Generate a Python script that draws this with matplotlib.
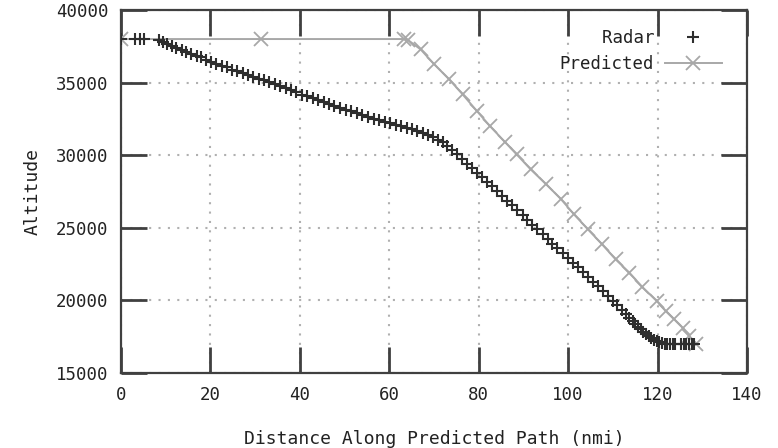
import matplotlib
matplotlib.use("Agg")
import matplotlib.pyplot as plt

# ---- data ----
radar_x = [0.0, 3.1, 4.3, 5.2,
           8.5, 9.4, 10.3, 11.5, 12.4, 13.6, 14.5, 15.7, 16.9, 17.8, 19.0, 20.1,
           21.2, 22.5, 23.6, 24.8, 26.0, 27.3, 28.4, 29.6, 30.9, 32.0, 33.1, 34.5,
           35.6, 36.8, 38.0, 39.2, 40.4, 41.5, 42.9, 44.0, 45.3, 46.6, 47.7, 49.0,
           50.3, 51.4, 52.8, 54.0, 55.2, 56.5, 57.7, 59.0, 60.2, 61.4, 62.6, 63.9,
           65.0, 66.2, 67.5, 68.6, 69.8, 71.0, 72.0,
           73.0, 74.1, 75.2, 76.3, 77.4, 78.5, 79.6, 80.8, 81.9, 83.0, 84.1, 85.3,
           86.4, 87.5, 88.6, 89.8, 90.9, 92.0, 93.1, 94.3, 95.4, 96.5, 97.6, 98.8,
           99.9, 101.0, 102.2, 103.3, 104.4, 105.6, 106.7, 107.8, 108.9, 110.0,
           111.0, 112.0, 112.9, 113.7, 114.4, 115.0, 115.6, 116.2, 116.8, 117.4,
           118.0, 118.6, 119.2, 119.8, 120.4, 121.0, 121.6, 122.2, 122.8, 123.4,
           124.0, 125.2, 125.8, 126.4, 127.0, 127.6, 128.2]
radar_alt = [38000, 38000, 38000, 38000,
             37900, 37780, 37650, 37500, 37370, 37230, 37110, 36980, 36850, 36740, 36560, 36400,
             36300, 36160, 36040, 35900, 35790, 35650, 35520, 35410, 35280, 35170, 35040, 34880,
             34760, 34620, 34480, 34330, 34170, 34060, 33930, 33800, 33680, 33520, 33410, 33280,
             33140, 33030, 32890, 32770, 32640, 32520, 32410, 32300, 32220, 32100, 32000, 31870,
             31770, 31640, 31520, 31380, 31250, 31080, 30900,
             30650, 30350, 30050, 29750, 29420, 29100, 28800, 28470, 28150, 27850, 27530, 27200,
             26880, 26550, 26220, 25890, 25560, 25220, 24900, 24560, 24230, 23900, 23580, 23250,
             22920, 22600, 22280, 21950, 21630, 21300, 20980, 20650, 20320, 19990,
             19660, 19350, 19060, 18800, 18580, 18370, 18190, 18010, 17850, 17690,
             17550, 17420, 17300, 17200, 17120, 17060, 17030, 17010, 17000, 17000,
             17000, 17000, 17010, 17000, 17000, 17000, 17000]

pred_x = [0.0, 31.4, 63.3, 64.1, 67.0, 70.0, 73.4, 76.4, 79.6, 82.5, 85.8, 88.5,
          91.6, 95.0, 98.3, 101.3, 104.4, 107.6, 110.6, 113.7, 116.6, 119.8,
          121.8, 123.7, 125.6, 127.1, 128.6]
pred_alt = [38000, 38000, 38000, 37950, 37290, 36280, 35220, 34190, 33040, 32010,
            30930, 30050, 29030, 28020, 27010, 25930, 24900, 23860, 22830, 21910,
            20920, 19960, 19270, 18700, 18120, 17550, 17020]

x_ticks = [0, 20, 40, 60, 80, 100, 120, 140]
y_ticks = [15000, 20000, 25000, 30000, 35000, 40000]

# ---- style ----
FONT = "DejaVu Sans Mono"
plt.rcParams["font.family"] = [FONT]
AX_COL = "#404040"
TXT_COL = "#222222"

fig = plt.figure(figsize=(7.78, 4.48), dpi=100)
ax = fig.add_axes([121 / 778, 1 - 373 / 448, (747 - 121) / 778, (373 - 10) / 448])

ax.plot(pred_x, pred_alt, color="#a8a8a8", lw=1.4, marker="x", ms=9.5, mew=1.3,
        label="Predicted", zorder=3)
ax.plot(radar_x, radar_alt, ls="none", color="#2e2e2e", marker="+", ms=8, mew=1.5,
        label="    Radar", zorder=4)

ax.set_xlim(0, 140)
ax.set_ylim(15000, 40000)
ax.set_xticks(x_ticks)
ax.set_yticks(y_ticks)
ax.tick_params(which="both", direction="in", length=19, width=2, color=AX_COL,
               top=True, right=True, labelsize=12.5, labelcolor=TXT_COL, pad=9)
for s in ax.spines.values():
    s.set_color(AX_COL)
    s.set_linewidth(1.6)
ax.grid(True, color="#b0b0b0", ls=(0, (1.0, 3.5)), lw=1.5)
ax.set_axisbelow(True)

ax.set_xlabel("Distance Along Predicted Path (nmi)", fontsize=13, color=TXT_COL, labelpad=19)
ax.set_ylabel("Altitude", fontsize=13, color=TXT_COL, labelpad=10)

handles, labels = ax.get_legend_handles_labels()
leg = ax.legend(handles[::-1], labels[::-1], loc="upper right", markerfirst=False,
                frameon=False, fontsize=12.5, handlelength=3.3, handletextpad=0.6,
                borderaxespad=0.5, labelspacing=0.45, bbox_to_anchor=(0.985, 0.99))
for t in leg.get_texts():
    t.set_color(TXT_COL)

fig.savefig("out.png", dpi=100)
